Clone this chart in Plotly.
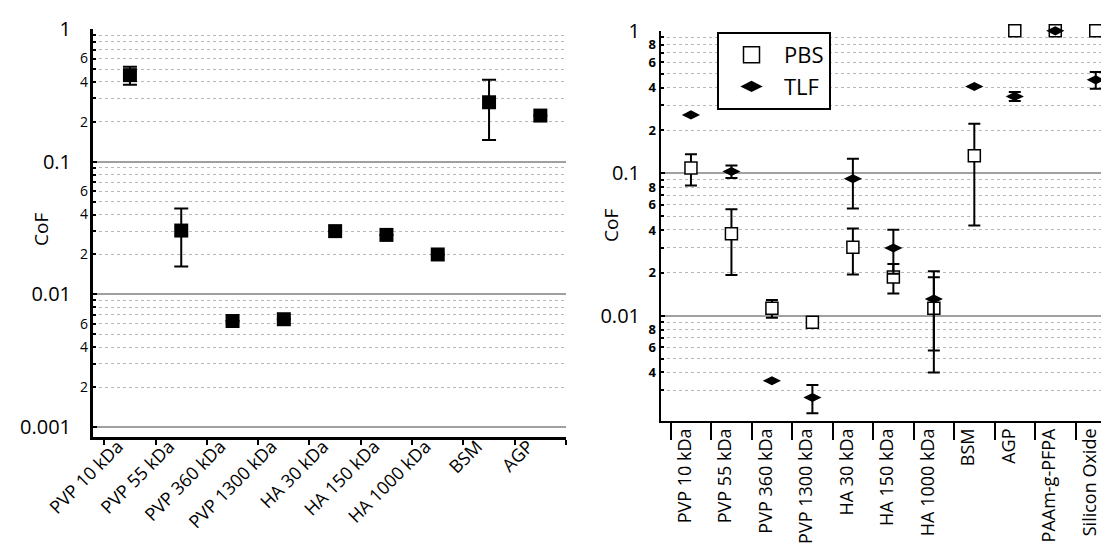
import plotly.graph_objects as go

# ---------------- data ----------------
left_categories = ["PVP 10 kDa", "PVP 55 kDa", "PVP 360 kDa", "PVP 1300 kDa",
                   "HA 30 kDa", "HA 150 kDa", "HA 1000 kDa", "BSM", "AGP"]
left_cof = [0.45, 0.0303, 0.0063, 0.0065, 0.0300, 0.0281, 0.0200, 0.281, 0.223]
left_err = [0.07, 0.0141, None, None, None, None, None, 0.135, None]

right_categories = ["PVP 10 kDa", "PVP 55 kDa", "PVP 360 kDa", "PVP 1300 kDa",
                    "HA 30 kDa", "HA 150 kDa", "HA 1000 kDa", "BSM", "AGP",
                    "PAAm-g-PFPA", "Silicon Oxide"]
pbs_cof = [0.109, 0.0376, 0.0113, 0.0090, 0.0302, 0.0187, 0.0113, 0.133, 1.0, 1.0, 1.0]
pbs_err = [0.027, 0.0183, 0.0016, None, 0.0107, 0.0044, 0.0073, 0.090, None, None, None]
tlf_cof = [0.257, 0.103, 0.0035, 0.00267, 0.0915, 0.0299, 0.0131, 0.407, 0.3465, 1.0, 0.453]
tlf_err = [None, 0.0105, None, 0.0006, 0.035, 0.0102, 0.0074, None, 0.025, None, 0.061]

decade_vals = [0.001, 0.01, 0.1, 1]
decade_text = ["0.001", "0.01", "0.1", "1"]
left_minor_label_vals = [0.002, 0.004, 0.006, 0.02, 0.04, 0.06, 0.2, 0.4, 0.6]
left_minor_label_text = ["2", "4", "6", "2", "4", "6", "2", "4", "6"]
right_minor_label_vals = [0.004, 0.006, 0.008, 0.02, 0.04, 0.06, 0.08,
                          0.2, 0.4, 0.6, 0.8]
right_minor_label_text = ["4", "6", "8", "2", "4", "6", "8", "2", "4", "6", "8"]
minor_grid_vals = [m * 10 ** e for e in (-3, -2, -1) for m in range(2, 10)]
right_minor_grid_vals = [v for v in minor_grid_vals if v > 0.0025]

FONT = "Open Sans"
W, H = 1109, 549


def px_x(p):
    return p / W


def px_y(p):
    return (H - p) / H


fig = go.Figure()

# ---------------- left panel ----------------
fig.add_trace(go.Scatter(
    x=left_categories, y=left_cof, mode="markers",
    marker=dict(symbol="square", size=14, color="black"),
    error_y=dict(type="data", array=left_err, color="black", thickness=2, width=7),
    xaxis="x", yaxis="y", showlegend=False, cliponaxis=False))

# ---------------- right panel ----------------
fig.add_trace(go.Scatter(
    x=right_categories, y=pbs_cof, mode="markers", name="PBS",
    marker=dict(symbol="square", size=12, color="white",
                line=dict(color="black", width=1.5)),
    error_y=dict(type="data", array=pbs_err, color="black", thickness=2, width=6),
    xaxis="x2", yaxis="y2", showlegend=False, cliponaxis=False))
fig.add_trace(go.Scatter(
    x=right_categories, y=tlf_cof, mode="markers", name="TLF",
    marker=dict(symbol="diamond-wide", size=13, color="black"),
    error_y=dict(type="data", array=tlf_err, color="black", thickness=2, width=6),
    xaxis="x2", yaxis="y2", showlegend=False, cliponaxis=False))

# legend entries (no drawn points)
fig.add_trace(go.Scatter(
    x=[None], y=[None], mode="markers", name="PBS",
    marker=dict(symbol="square", size=16, color="white",
                line=dict(color="black", width=1.5)),
    xaxis="x2", yaxis="y2"))
fig.add_trace(go.Scatter(
    x=[None], y=[None], mode="markers", name="TLF",
    marker=dict(symbol="diamond-wide", size=16, color="black"),
    xaxis="x2", yaxis="y2"))

# empty traces so the overlaid minor-label axes get drawn
fig.add_trace(go.Scatter(x=[None], y=[None], mode="markers", xaxis="x",
                         yaxis="y3", showlegend=False, hoverinfo="skip"))
fig.add_trace(go.Scatter(x=[None], y=[None], mode="markers", xaxis="x2",
                         yaxis="y4", showlegend=False, hoverinfo="skip"))

common_y = dict(type="log", tickmode="array", showline=True, linecolor="black",
                zeroline=False, ticks="inside", tickcolor="black",
                tickwidth=1.5, ticklen=4, gridcolor="#a0a0a0", gridwidth=1.5,
                tickfont=dict(family=FONT, size=20, color="black"),
                ticklabelstandoff=15)

fig.update_layout(
    width=W, height=H,
    margin=dict(l=0, r=0, t=0, b=0),
    paper_bgcolor="white", plot_bgcolor="white",
    xaxis=dict(domain=[px_x(85), px_x(558)], type="category",
               categoryorder="array", categoryarray=left_categories,
               range=[-0.72, 8.5], tickson="boundaries", ticks="outside",
               ticklen=5, tickwidth=2, tickcolor="black", showline=True,
               linewidth=3, linecolor="black", showgrid=False, tickangle=-45,
               ticklabelstandoff=-11, ticklabelshift=-12,
               tickfont=dict(family=FONT, size=18, color="black"),
               anchor="y", automargin=False),
    yaxis=dict(domain=[px_y(429), px_y(21)], range=[-3.075, 0.001],
               tickvals=decade_vals, ticktext=decade_text, linewidth=3,
               anchor="x", automargin=False,
               minor=dict(tickvals=minor_grid_vals, ticks="inside", ticklen=3,
                          tickcolor="black", showgrid=True, griddash="dot",
                          gridcolor="#b8b8b8", gridwidth=1),
               **common_y),
    yaxis3=dict(overlaying="y", type="log", range=[-3.075, 0.001], anchor="x",
                side="left", tickmode="array", tickvals=left_minor_label_vals,
                ticktext=left_minor_label_text, showgrid=False, ticks="",
                showline=False, zeroline=False, ticklabelstandoff=4,
                tickfont=dict(family=FONT, size=14, color="black"),
                automargin=False),
    xaxis2=dict(domain=[px_x(653), px_x(1108)], type="category",
                categoryorder="array", categoryarray=right_categories,
                range=[-0.74, 10.5], tickson="boundaries", ticks="outside",
                ticklen=17, tickwidth=2, tickcolor="black", showline=True,
                linewidth=2, linecolor="black", showgrid=False, tickangle=-90,
                ticklabelshift=-6, ticklabelstandoff=-2,
                tickfont=dict(family=FONT, size=18, color="black"),
                anchor="y2", automargin=False),
    yaxis2=dict(domain=[px_y(413.3), px_y(22.7)], range=[-2.741, 0.001],
                tickvals=decade_vals[1:], ticktext=decade_text[1:], linewidth=2,
                anchor="x2", automargin=False,
                minor=dict(tickvals=right_minor_grid_vals, ticks="inside",
                           ticklen=3, tickcolor="black", showgrid=True,
                           griddash="dot", gridcolor="#b8b8b8", gridwidth=1),
                **common_y),
    yaxis4=dict(overlaying="y2", type="log", range=[-2.741, 0.001], anchor="x2",
                side="left", tickmode="array", tickvals=right_minor_label_vals,
                ticktext=right_minor_label_text, showgrid=False, ticks="",
                showline=False, zeroline=False, ticklabelstandoff=4,
                tickfont=dict(family=FONT, size=13, color="black", weight="bold"),
                automargin=False),
    legend=dict(x=px_x(709), y=px_y(24), xanchor="left", yanchor="top",
                bordercolor="black", borderwidth=2, bgcolor="white",
                itemwidth=55,
                font=dict(family=FONT, size=22, color="black")),
    annotations=[
        dict(text="CoF", x=px_x(18), y=px_y(222), xref="paper", yref="paper",
             textangle=-90, showarrow=False,
             font=dict(family=FONT, size=19, color="black")),
        dict(text="CoF", x=px_x(603), y=px_y(218), xref="paper", yref="paper",
             textangle=-90, showarrow=False,
             font=dict(family=FONT, size=19, color="black")),
    ],
)

fig.write_html("out.html")
